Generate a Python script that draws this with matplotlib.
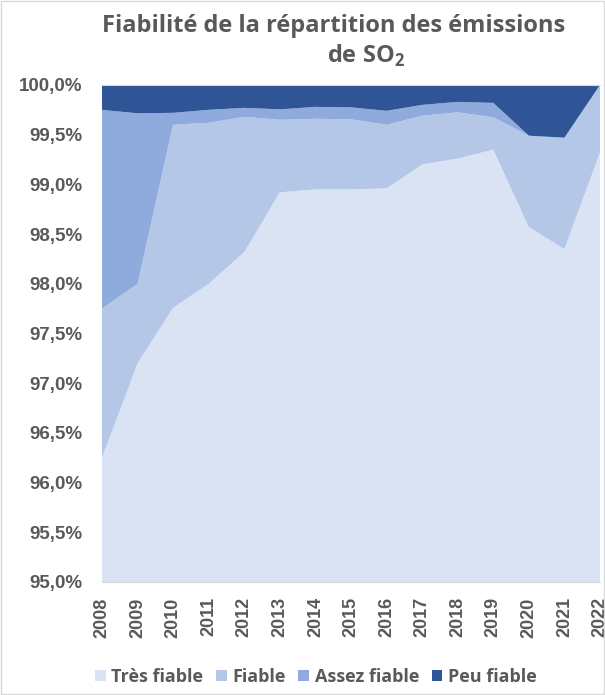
import matplotlib.pyplot as plt
import numpy as np
from matplotlib.patches import Rectangle
from matplotlib.ticker import FuncFormatter

# cumulative tops (in %)
years = [2008, 2009, 2010, 2011, 2012, 2013, 2014, 2015,
         2016, 2017, 2018, 2019, 2020, 2021, 2022]
tres_fiable = [96.25, 97.20, 97.76, 98.00, 98.32, 98.92, 98.95, 98.95,
               98.96, 99.20, 99.26, 99.35, 98.57, 98.35, 99.32]
fiable = [1.50, 0.80, 1.84, 1.62, 1.36, 0.73, 0.71, 0.705,
          0.64, 0.49, 0.465, 0.325, 0.92, 1.12, 0.68]
assez_fiable = [2.00, 1.715, 0.12, 0.13, 0.09, 0.105, 0.12, 0.12,
                0.14, 0.11, 0.105, 0.145, 0.0, 0.0, 0.0]
peu_fiable = [0.25, 0.285, 0.28, 0.25, 0.23, 0.245, 0.22, 0.225,
              0.26, 0.20, 0.17, 0.18, 0.51, 0.53, 0.0]

labels = ['Très fiable', 'Fiable', 'Assez fiable', 'Peu fiable']
colors = ['#DAE3F3', '#B4C7E7', '#8FAADC', '#2F5597']
grey = '#595959'
fam = ['Open Sans', 'DejaVu Sans']
tick_fam = ['Liberation Sans', 'DejaVu Sans']

plt.rcParams['font.family'] = fam
plt.rcParams['mathtext.fontset'] = 'custom'
plt.rcParams['mathtext.rm'] = 'Open Sans:bold'

fig = plt.figure(figsize=(6.05, 6.95), dpi=100)
ax = fig.add_axes([0.1686, 0.1626, 0.8231, 0.7151])

ax.stackplot(years, tres_fiable, fiable, assez_fiable, peu_fiable,
             colors=colors, labels=labels, linewidth=0)

ax.set_xlim(2008, 2022)
ax.set_ylim(95, 100)
ax.set_yticks(np.arange(95, 100.01, 0.5))
ax.yaxis.set_major_formatter(
    FuncFormatter(lambda v, p: f'{v:.1f}%'.replace('.', ',')))
ax.set_xticks(years)
ax.set_xticklabels([str(y) for y in years], rotation=90)

for lab in ax.get_yticklabels():
    lab.set_fontsize(13.5)
for lab in ax.get_xticklabels():
    lab.set_fontsize(13)
for lab in ax.get_xticklabels() + ax.get_yticklabels():
    lab.set_fontweight('bold')
    lab.set_family(tick_fam)
    lab.set_color(grey)
ax.tick_params(axis='y', length=0, pad=14)
ax.tick_params(axis='x', length=0, pad=11)

for side in ['left', 'right']:
    ax.spines[side].set_visible(False)
ax.spines['top'].set_color('#D9D9D9')
ax.spines['bottom'].set_color('#D9D9D9')

fig.text(0.552, 0.963, 'Fiabilité de la répartition des émissions',
         ha='center', va='center', fontsize=17, fontweight='bold',
         color=grey)
fig.text(0.605, 0.920, r'de SO$_\mathrm{2}$', ha='center', va='center',
         fontsize=17, fontweight='bold', color=grey)

fig.legend(loc='center', bbox_to_anchor=(0.522, 0.026), ncol=4,
           frameon=False, handlelength=0.6, handleheight=0.6,
           handletextpad=0.3, columnspacing=0.7,
           prop={'weight': 'bold', 'size': 13, 'family': fam},
           labelcolor=grey)

fig.patches.append(Rectangle((0.002, 0.002), 0.996, 0.996,
                             transform=fig.transFigure, fill=False,
                             edgecolor='#D9D9D9', linewidth=1))

fig.savefig('out.png', dpi=100)
